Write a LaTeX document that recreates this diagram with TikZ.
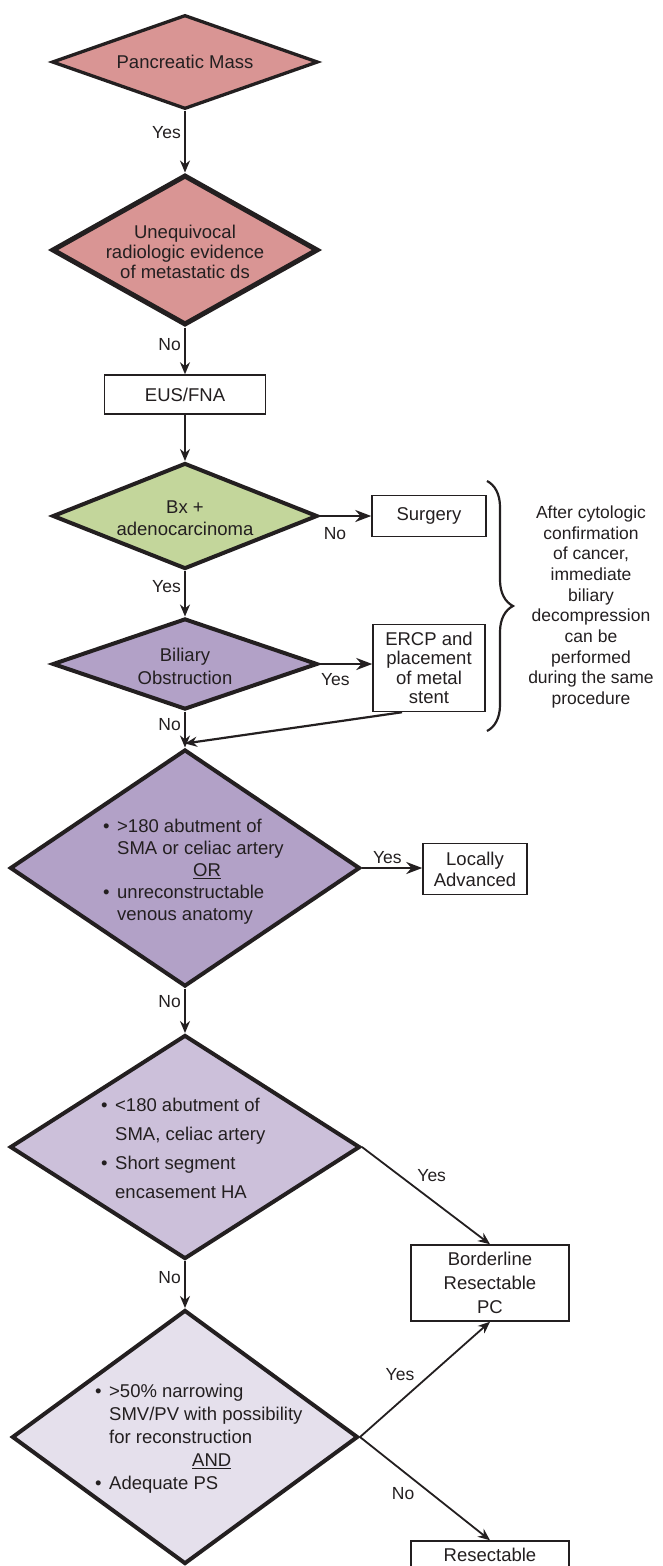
\documentclass[tikz,border=0pt]{standalone}
\usepackage{fontspec}
\setmainfont{Liberation Sans}
\usetikzlibrary{shapes.geometric, arrows.meta, decorations.pathreplacing}

\definecolor{ink}{HTML}{231F20}
\definecolor{rose}{HTML}{D99594}
\definecolor{sage}{HTML}{C3D69B}
\definecolor{plum}{HTML}{B2A1C7}
\definecolor{lilac}{HTML}{CCC0DA}
\definecolor{mist}{HTML}{E5E0EC}

\newcommand{\itembul}{\makebox[14pt][l]{•}}
\newcommand{\itemgap}{\hspace*{14pt}}

\begin{document}
\begin{tikzpicture}[
    x=1pt, y=-1pt,
    every node/.style={text=ink, align=center, font=\fontsize{18.5pt}{22pt}\selectfont},
    dia/.style={shape=diamond, draw=ink, line width=4pt, inner sep=0pt},
    box/.style={draw=ink, line width=1.5pt, fill=white, inner sep=3pt},
    txt/.style={inner sep=0pt},
    lbl/.style={font=\fontsize{17.5pt}{20pt}\selectfont},
    line/.style={-{Stealth[length=12pt, width=10pt]}, line width=1.8pt, draw=ink},
    bold line/.style={-{Stealth[length=16pt, width=12pt]}, line width=2.6pt, draw=ink}
]
\useasboundingbox (0,0) rectangle (662,1566);

% --- Main column: screening decisions ---
\node[dia, fill=rose, line width=3.3pt, minimum width=266pt, minimum height=94pt] (mass) at (185,62) {};
\node[txt] (mass-t) at (mass) {Pancreatic Mass};
\node[dia, fill=rose, line width=5pt, minimum width=266pt, minimum height=150pt] (unequ) at (185,250) {};
\node[txt, font=\fontsize{18.5pt}{20pt}\selectfont] (unequ-t) at (185,252) {Unequivocal\\radiologic evidence\\of metastatic ds};
\node[box, minimum width=161pt, minimum height=39pt] (eus) at (185,394.5) {EUS/FNA};
\node[dia, fill=sage, minimum width=265pt, minimum height=106pt] (bx) at (185,516) {};
\node[txt] (bx-t) at (185,518) {Bx +\\adenocarcinoma};
\node[dia, fill=plum, minimum width=265pt, minimum height=91pt] (bil) at (185,664) {};
\node[txt, font=\fontsize{18.5pt}{23pt}\selectfont] (bil-t) at (185,666) {Biliary\\Obstruction};

% --- Right column: side outcomes ---
\node[box, minimum width=114pt, minimum height=41pt] (surg) at (429,516) {Surgery};
\node[box, minimum width=112pt, minimum height=87pt, font=\fontsize{18.5pt}{19.5pt}\selectfont] (ercp) at (429,668) {ERCP and\\placement\\of metal\\stent};

% Brace with the note beside it
\coordinate (brace-top) at (487,481);
\coordinate (brace-bot) at (487,731);
\draw[decorate, decoration={brace, amplitude=26pt}, line width=2.2pt, draw=ink] (brace-top) -- (brace-bot);
\node[font=\fontsize{17.5pt}{20.7pt}\selectfont] (note) at (591,607) {After cytologic\\confirmation\\of cancer,\\immediate\\biliary\\decompression\\can be\\performed\\during the same\\procedure};

% --- Staging diamonds ---
\node[dia, fill=plum, minimum width=350pt, minimum height=237pt] (big) at (185,868) {};
\node[txt, anchor=west, align=left] (big-t) at (103,872)
  {\itembul>180 abutment of\\\itemgap SMA or celiac artery\\\hspace*{90pt}\underline{OR}\\\itembul unreconstructable\\\itemgap venous anatomy};
\node[box, minimum width=104pt, minimum height=51pt, font=\fontsize{18.5pt}{21pt}\selectfont] (loc) at (475,869) {Locally\\Advanced};

\node[dia, fill=lilac, minimum width=350pt, minimum height=224pt] (bord-q) at (185,1147) {};
\node[txt, anchor=west, align=left, font=\fontsize{18.5pt}{29pt}\selectfont] (bord-q-t) at (101,1148)
  {\itembul<180 abutment of\\\itemgap SMA, celiac artery\\\itembul Short segment\\\itemgap encasement HA};

\node[dia, fill=mist, minimum width=346pt, minimum height=254pt] (res-q) at (185,1437) {};
\node[txt, anchor=west, align=left, font=\fontsize{18.5pt}{23pt}\selectfont] (res-q-t) at (95,1439)
  {\itembul>50\% narrowing\\\itemgap SMV/PV with possibility\\\itemgap for reconstruction\\\hspace*{97pt}\underline{AND}\\\itembul Adequate PS};

\node[box, minimum width=158pt, minimum height=76pt, font=\fontsize{18.5pt}{24pt}\selectfont] (bord) at (490,1283) {Borderline\\Resectable\\PC};
\node[box, minimum width=158pt, minimum height=28pt] (res) at (490,1555) {Resectable};

% --- Connections ---
\draw[line] (mass) -- node[lbl, left, pos=0.36]{Yes} (unequ);
\draw[line] (unequ) -- node[lbl, left, pos=0.36]{No} (eus);
\draw[line] (eus) -- (bx);
\draw[bold line] (bx) -- node[lbl, below, pos=0.3, yshift=-7pt]{No} (surg);
\draw[line] (bx) -- node[lbl, left, pos=0.34]{Yes} (bil);
\draw[bold line] (bil.east) -- node[lbl, below, pos=0.3, yshift=-5pt]{Yes} (bil.east -| ercp.west);
\draw[line] (bil) -- node[lbl, left, pos=0.35]{No} (big);
\draw[line, line width=2.2pt] ([xshift=-27pt]ercp.south) -- ([yshift=4pt]big.north);
\draw[bold line] (big.east) -- node[lbl, above, pos=0.42]{Yes} (big.east -| loc.west);
\draw[line] (big) -- node[lbl, left, pos=0.3]{No} (bord-q);
\draw[line] (bord-q) -- node[lbl, left, pos=0.35]{No} (res-q);
\draw[line] (bord-q.east) -- node[lbl, above right, pos=0.4]{Yes} (bord.north);
\draw[line] (res-q.east) -- node[lbl, above left, pos=0.45]{Yes} (bord.south);
\draw[line] (res-q.east) -- node[lbl, below left, pos=0.45]{No} (res.north);

\end{tikzpicture}
\end{document}
